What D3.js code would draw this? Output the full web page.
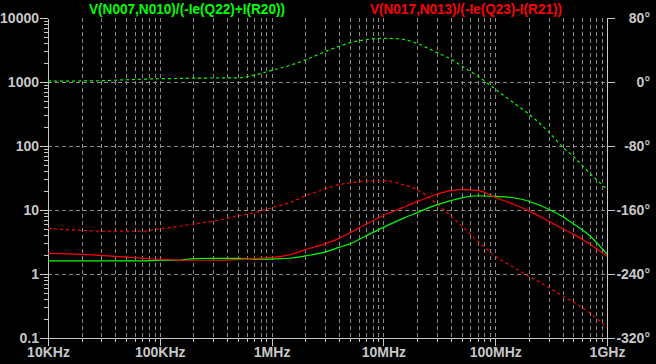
<!DOCTYPE html>
<html>
<head>
<meta charset="utf-8">
<script src="https://cdn.jsdelivr.net/npm/d3@7.9.0/dist/d3.min.js"></script>
<style>
  html, body { margin: 0; padding: 0; background: #000; }
  svg { display: block; }
  text { font-family: "Liberation Sans", Arial, sans-serif; font-weight: bold; }
</style>
</head>
<body>
<svg id="chart" width="656" height="364"></svg>
<script>
// frequencies (Hz) sampled along the curves
const freqs = [1e4, 2e4, 3e4, 5e4, 7e4, 1e5, 1.5e5, 2e5, 3e5, 5e5, 7e5,
  1e6, 1.5e6, 2e6, 3e6, 4e6, 5e6, 7e6, 1e7, 1.5e7, 2e7, 3e7, 4e7, 5e7, 7e7,
  1e8, 1.5e8, 2e8, 3e8, 4e8, 5e8, 7e8, 1e9];

// V(N007,N010)/(-Ie(Q22)+I(R20)) : magnitude and phase (deg)
const greenMag = [1.6, 1.6, 1.6, 1.6, 1.6, 1.64, 1.64, 1.74, 1.76, 1.76, 1.71,
  1.71, 1.78, 1.92, 2.2, 2.6, 2.95, 3.95, 5.35, 7.4, 9.1, 12, 14, 15.5, 16.7,
  16.3, 15.4, 13.7, 10.3, 7.9, 6.1, 3.95, 2.05];
const greenPhase = [1, 1.3, 1.6, 2.8, 3.5, 4.1, 4.5, 4.8, 5, 5.2, 8.6,
  14.5, 21.3, 27.5, 37.8, 44.6, 49, 53, 54.6, 53.3, 48.2, 36.9, 28.8, 20.2, 7.2,
  -8.8, -27.3, -40, -62.3, -81, -93, -114, -134];

// V(N017,N013)/(-Ie(Q23)-I(R21)) : magnitude and phase (deg)
const redMag = [2.1, 2.03, 1.96, 1.84, 1.77, 1.7, 1.65, 1.64, 1.64, 1.68, 1.75,
  1.8, 2.03, 2.4, 2.95, 3.6, 4.4, 6.0, 8.2, 11, 13.5, 17.6, 20.1, 20.8, 20.2,
  15.8, 12.1, 9.7, 6.7, 5.1, 4.2, 2.95, 1.9];
const redPhase = [-183, -185.5, -186.5, -186.5, -186.5, -183.5, -180.3, -177.5, -174, -167.4, -163.4,
  -157.2, -150, -142.5, -133.6, -128.3, -126, -124, -123.4, -128.2, -134.6, -152.3, -167.3, -179.7, -199,
  -217.6, -232.5, -242.7, -256.6, -267.3, -275, -288.6, -307];

const xTicks = [1e4, 1e5, 1e6, 1e7, 1e8, 1e9];
const xTickLabels = ["10KHz", "100KHz", "1MHz", "10MHz", "100MHz", "1GHz"];
const yTicks = [0.1, 1, 10, 100, 1000, 10000];
const yTickLabels = ["0.1", "1", "10", "100", "1000", "10000"];
const phaseTicks = [-320, -240, -160, -80, 0, 80];

const plotLeft = 48, plotRight = 607, plotTop = 18, plotBottom = 338;
const gridColor = "#8a8a8a";
const axisColor = "#c8c8c8";
const green = "#00ff00";
const red = "#ff0000";

const svg = d3.select("#chart");
svg.append("rect").attr("width", 656).attr("height", 364).attr("fill", "#000");

const x = d3.scaleLog().domain([1e4, 1e9]).range([plotLeft, plotRight]);
const y = d3.scaleLog().domain([0.1, 10000]).range([plotBottom, plotTop]);
const yPhase = d3.scaleLinear().domain([-320, 80]).range([plotBottom, plotTop]);

// minor log positions (2..9 in each decade)
const minorX = [];
for (let d = 1e4; d < 1e9; d *= 10) for (let k = 2; k <= 9; k++) minorX.push(d * k);
const minorY = [];
for (let d = 0.1; d < 10000; d *= 10) for (let k = 2; k <= 9; k++) minorY.push(d * k);

// grid
const grid = svg.append("g")
  .attr("stroke", gridColor)
  .attr("stroke-width", 1)
  .attr("stroke-dasharray", "4,3")
  .attr("shape-rendering", "crispEdges");

grid.selectAll("line.v")
  .data(minorX.concat(xTicks.slice(1, -1)))
  .join("line")
  .attr("class", "v")
  .attr("x1", d => Math.round(x(d)) + 0.5)
  .attr("x2", d => Math.round(x(d)) + 0.5)
  .attr("y1", plotTop)
  .attr("y2", plotBottom);

grid.selectAll("line.h")
  .data(yTicks.slice(1, -1))
  .join("line")
  .attr("class", "h")
  .attr("x1", plotLeft)
  .attr("x2", plotRight)
  .attr("y1", d => Math.round(y(d)) + 0.5)
  .attr("y2", d => Math.round(y(d)) + 0.5);

// axes
function styleAxis(g) {
  g.attr("shape-rendering", "crispEdges");
  g.selectAll("path.domain").attr("stroke", axisColor);
  g.selectAll(".tick line").attr("stroke", axisColor);
  g.selectAll(".tick text")
    .attr("fill", axisColor)
    .style("font-size", "14px")
    .style("font-weight", "bold")
    .style("font-family", '"Liberation Sans", Arial, sans-serif');
}

svg.append("g")
  .attr("transform", `translate(0,${plotBottom})`)
  .call(d3.axisBottom(x).tickValues(minorX).tickSize(4).tickFormat("").tickSizeOuter(0))
  .call(styleAxis);

svg.append("g")
  .attr("transform", `translate(0,${plotBottom})`)
  .call(d3.axisBottom(x).tickValues(xTicks).tickSize(8).tickPadding(1).tickSizeOuter(0)
    .tickFormat((d, i) => xTickLabels[i]))
  .call(styleAxis);

svg.append("g")
  .attr("transform", `translate(${plotLeft},0)`)
  .call(d3.axisLeft(y).tickValues(minorY).tickSize(4).tickFormat("").tickSizeOuter(0))
  .call(styleAxis);

svg.append("g")
  .attr("transform", `translate(${plotLeft},0)`)
  .call(d3.axisLeft(y).tickValues(yTicks).tickSize(8).tickPadding(1).tickSizeOuter(0)
    .tickFormat((d, i) => yTickLabels[i]))
  .call(styleAxis);

svg.append("g")
  .attr("transform", `translate(${plotRight},0)`)
  .call(d3.axisRight(yPhase).tickValues(phaseTicks).tickSize(8).tickSizeOuter(0)
    .tickFormat(d => d + "°"))
  .call(styleAxis)
  .call(g => g.selectAll(".tick text").attr("text-anchor", "end").attr("x", 43));

// curves
const magLine = d3.line()
  .x(d => x(d[0]))
  .y(d => y(d[1]))
  .curve(d3.curveMonotoneX);
const phaseLine = d3.line()
  .x(d => x(d[0]))
  .y(d => yPhase(d[1]))
  .curve(d3.curveMonotoneX);

const series = [
  { vals: greenPhase, line: phaseLine, color: green, dash: "3,3" },
  { vals: redPhase, line: phaseLine, color: red, dash: "3,3" },
  { vals: greenMag, line: magLine, color: green, dash: null },
  { vals: redMag, line: magLine, color: red, dash: null }
];

svg.append("g")
  .selectAll("path")
  .data(series)
  .join("path")
  .attr("fill", "none")
  .attr("stroke", d => d.color)
  .attr("stroke-width", 1.2)
  .attr("stroke-dasharray", d => d.dash)
  .attr("d", d => d.line(freqs.map((f, i) => [f, d.vals[i]])));

// titles
svg.append("text")
  .attr("x", 89).attr("y", 14)
  .attr("fill", green)
  .attr("textLength", 196)
  .attr("lengthAdjust", "spacingAndGlyphs")
  .style("font-size", "14px")
  .text("V(N007,N010)/(-Ie(Q22)+I(R20))");

svg.append("text")
  .attr("x", 370).attr("y", 14)
  .attr("fill", red)
  .attr("textLength", 192)
  .attr("lengthAdjust", "spacingAndGlyphs")
  .style("font-size", "14px")
  .text("V(N017,N013)/(-Ie(Q23)-I(R21))");
</script>
</body>
</html>
